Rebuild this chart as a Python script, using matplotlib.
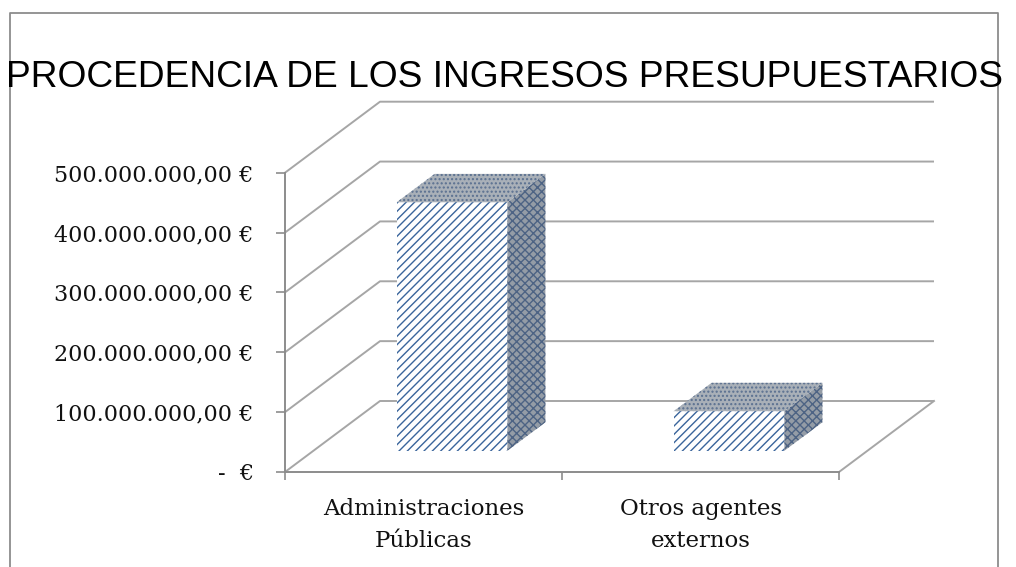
import matplotlib
matplotlib.use('Agg')
import matplotlib.pyplot as plt
from matplotlib.patches import Polygon
from matplotlib.lines import Line2D

# ---------------- data ----------------
categories = ['Administraciones\nPúblicas', 'Otros agentes\nexternos']
values = [415_000_000, 66_000_000]
y_ticks = [0, 100_000_000, 200_000_000, 300_000_000, 400_000_000, 500_000_000]
y_tick_labels = ['-  €', '100.000.000,00 €', '200.000.000,00 €',
                 '300.000.000,00 €', '400.000.000,00 €', '500.000.000,00 €']
title = 'PROCEDENCIA DE LOS INGRESOS PRESUPUESTARIOS'

# ---------------- style ----------------
plt.rcParams['hatch.linewidth'] = 1.0
W, H = 1016, 567
GRID_C = '#a6a6a6'
AXIS_C = '#8c8c8c'
FRONT_HATCH = '#3a659c'
SIDE_FACE = '#949ca6'
SIDE_HATCH = '#4d6384'
TOP_FACE = '#a9b0b8'
TOP_HATCH = '#5a7090'
serif = ['DejaVu Serif']

fig = plt.figure(figsize=(W / 100, H / 100), dpi=100)
ax_w_px, ax_h_px = 554, 299.3
ax = fig.add_axes([285 / W, (H - 472) / H, ax_w_px / W, ax_h_px / H])
ax.set_xlim(-0.5, 1.5)
ax.set_ylim(0, 500_000_000)
ax.patch.set_visible(False)

# depth offset of the 3D box (pixels -> data units)
DX_PX, DY_PX = 95, 71
ddx = DX_PX * 2.0 / ax_w_px
ddy = DY_PX * 500_000_000 / ax_h_px

# walls / gridlines
for v in y_ticks:
    ax.plot([-0.5, -0.5 + ddx, 1.5 + ddx], [v, v + ddy, v + ddy],
            color=GRID_C, lw=1.4, clip_on=False, zorder=1, solid_capstyle='butt')
ax.plot([1.5, 1.5 + ddx], [0, ddy], color=GRID_C, lw=1.4, clip_on=False, zorder=1)

# bars
bw = 0.4
f0, f1 = 0.3, 0.7
for i, v in enumerate(values):
    # front face
    ax.bar(i + f0 * ddx, v, width=bw, bottom=f0 * ddy, facecolor='white',
           edgecolor=FRONT_HATCH, hatch='////', linewidth=0, zorder=3, clip_on=False)
    xr = i + bw / 2
    xl = i - bw / 2
    side = Polygon([(xr + f0 * ddx, f0 * ddy), (xr + f1 * ddx, f1 * ddy),
                    (xr + f1 * ddx, v + f1 * ddy), (xr + f0 * ddx, v + f0 * ddy)],
                   closed=True, facecolor=SIDE_FACE, edgecolor=SIDE_HATCH,
                   hatch='xxxx', linewidth=0, zorder=3, clip_on=False)
    top = Polygon([(xl + f0 * ddx, v + f0 * ddy), (xr + f0 * ddx, v + f0 * ddy),
                   (xr + f1 * ddx, v + f1 * ddy), (xl + f1 * ddx, v + f1 * ddy)],
                  closed=True, facecolor=TOP_FACE, edgecolor=TOP_HATCH,
                  hatch='....', linewidth=0, zorder=3, clip_on=False)
    ax.add_patch(side)
    ax.add_patch(top)

# axes
for s in ['top', 'right']:
    ax.spines[s].set_visible(False)
for s in ['left', 'bottom']:
    ax.spines[s].set_color(AXIS_C)
    ax.spines[s].set_linewidth(1.4)
    ax.spines[s].set_zorder(2)

ax.set_yticks(y_ticks)
ax.set_yticklabels(y_tick_labels, family=serif, fontsize=16, color='#111111')
ax.tick_params(axis='y', length=6.5, width=1.2, color=AXIS_C, pad=16)

ax.set_xticks(range(len(categories)))
ax.set_xticklabels(categories, family=serif, fontsize=16.5, color='#111111',
                   linespacing=1.55)
ax.set_xticks([-0.5, 0.5, 1.5], minor=True)
ax.tick_params(axis='x', which='major', length=0, pad=19)
ax.tick_params(axis='x', which='minor', length=6, width=1.2, color=AXIS_C)

# title
fig.text(0.497, 1 - 87 / H, title, ha='center', va='baseline',
         family=['Liberation Sans', 'DejaVu Sans'], fontsize=26.7, color='black')

# chart frame
fig.add_artist(Line2D([10 / W, 10 / W, 998 / W, 998 / W],
                      [0, 1 - 13 / H, 1 - 13 / H, 0],
                      transform=fig.transFigure, color=AXIS_C, lw=1.3, zorder=0))

fig.savefig('out.png', dpi=100, facecolor='white')
